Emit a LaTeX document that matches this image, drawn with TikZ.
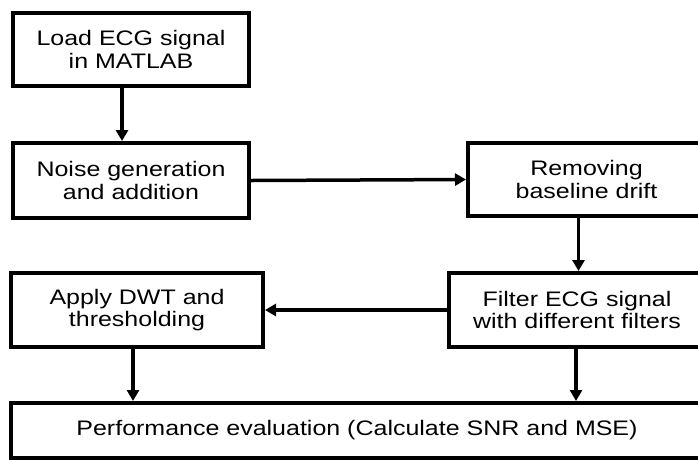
\documentclass[tikz,border=0pt]{standalone}
\usepackage{fontspec}
\setmainfont{Liberation Sans}[FakeStretch=1.19]
\usetikzlibrary{arrows.meta}
\begin{document}
\begin{tikzpicture}[x=1pt,y=-1pt,
  box/.style={draw=black,line width=4pt,fill=white,inner sep=0pt,align=center,
    font=\fontsize{21}{22.5}\selectfont},
  arr/.style={line width=3.5pt,-{Triangle[length=11pt,width=12pt]}}]
\useasboundingbox (0,0) rectangle (698,459);
\clip (0,0) rectangle (698,459);
\fill[white] (0,0) rectangle (698,459);
\node[box,minimum width=236pt,minimum height=73pt] (n1) at (131,49.5) {Load ECG signal\\in MATLAB};
\node[box,minimum width=236pt,minimum height=75pt] (n2) at (131,180.5) {Noise generation\\and addition};
\node[box,minimum width=237pt,minimum height=73pt] (n3) at (586.5,179.5) {Removing\\baseline drift};
\node[box,minimum width=252pt,minimum height=74pt] (n4) at (137,310) {Apply DWT and\\thresholding};
\node[box,minimum width=256pt,minimum height=74pt] (n5) at (577,310) {Filter ECG signal\\with different filters};
\node[box,minimum width=692pt,minimum height=55pt] (n6) at (357,430.5) {Performance evaluation (Calculate SNR and MSE)};
\draw[arr] ([xshift=-9pt]n1.south) -- ([xshift=-9pt]n2.north);
\draw[arr] (n2.east) -- (n3.west);
\draw[arr] ([xshift=-8pt]n3.south) -- ([xshift=-8pt]n3.south |- n5.north);
\draw[arr] (n5.west) -- (n4.east);
\draw[arr] ([xshift=-4pt]n4.south) -- ([xshift=-4pt]n4.south |- n6.north);
\draw[arr] ([xshift=-1pt]n5.south) -- ([xshift=-1pt]n5.south |- n6.north);
\end{tikzpicture}
\end{document}
